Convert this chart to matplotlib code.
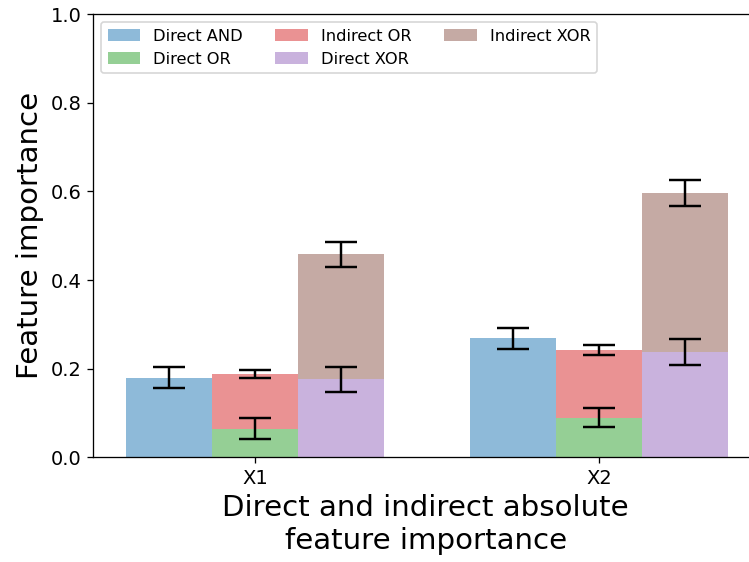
import matplotlib
matplotlib.use("Agg")
import matplotlib.pyplot as plt
import numpy as np

# --- Data ---
features = ["X1", "X2"]

direct_and = [0.180, 0.269]
direct_and_err = [0.024, 0.024]

direct_or = [0.065, 0.090]
direct_or_err = [0.023, 0.021]

# indirect parts are stacked on top of the direct parts
indirect_or = [0.124, 0.153]
indirect_or_err = [0.009, 0.011]

direct_xor = [0.176, 0.238]
direct_xor_err = [0.029, 0.029]

indirect_xor = [0.282, 0.358]
indirect_xor_err = [0.029, 0.029]

# --- Plot ---
dpi = 117
fig = plt.figure(figsize=(749 / dpi, 562 / dpi), dpi=dpi)
# the reference is cropped on the right, so the axes run past the figure edge
ax = fig.add_axes([0.1242, 0.186, 0.888, 0.789])

x = np.arange(len(features))
w = 0.25
kw = dict(alpha=0.5, capsize=10, error_kw=dict(ecolor="black", elinewidth=1.5, capthick=1.5))

ax.bar(x - w, direct_and, w, yerr=direct_and_err, color="#1f77b4", label="Direct AND", **kw)
ax.bar(x, direct_or, w, yerr=direct_or_err, color="#2ca02c", label="Direct OR", **kw)
ax.bar(x, indirect_or, w, bottom=direct_or, yerr=indirect_or_err, color="#d62728", label="Indirect OR", **kw)
ax.bar(x + w, direct_xor, w, yerr=direct_xor_err, color="#9467bd", label="Direct XOR", **kw)
ax.bar(x + w, indirect_xor, w, bottom=direct_xor, yerr=indirect_xor_err, color="#8c564b", label="Indirect XOR", **kw)

ax.legend(loc="upper left", ncol=3, fontsize=10)

ax.set_xticks(x)
ax.set_xticklabels(features)
ax.set_xlim(-0.471, 1.4625)
ax.set_ylim(0, 1.0)
ax.set_yticks(np.arange(0, 1.01, 0.2))
ax.tick_params(labelsize=12)
ax.spines["right"].set_visible(False)
ax.set_ylabel("Feature importance", fontsize=18)
ax.set_xlabel("Direct and indirect absolute\nfeature importance", fontsize=18)

fig.savefig("out.png", dpi=dpi)
